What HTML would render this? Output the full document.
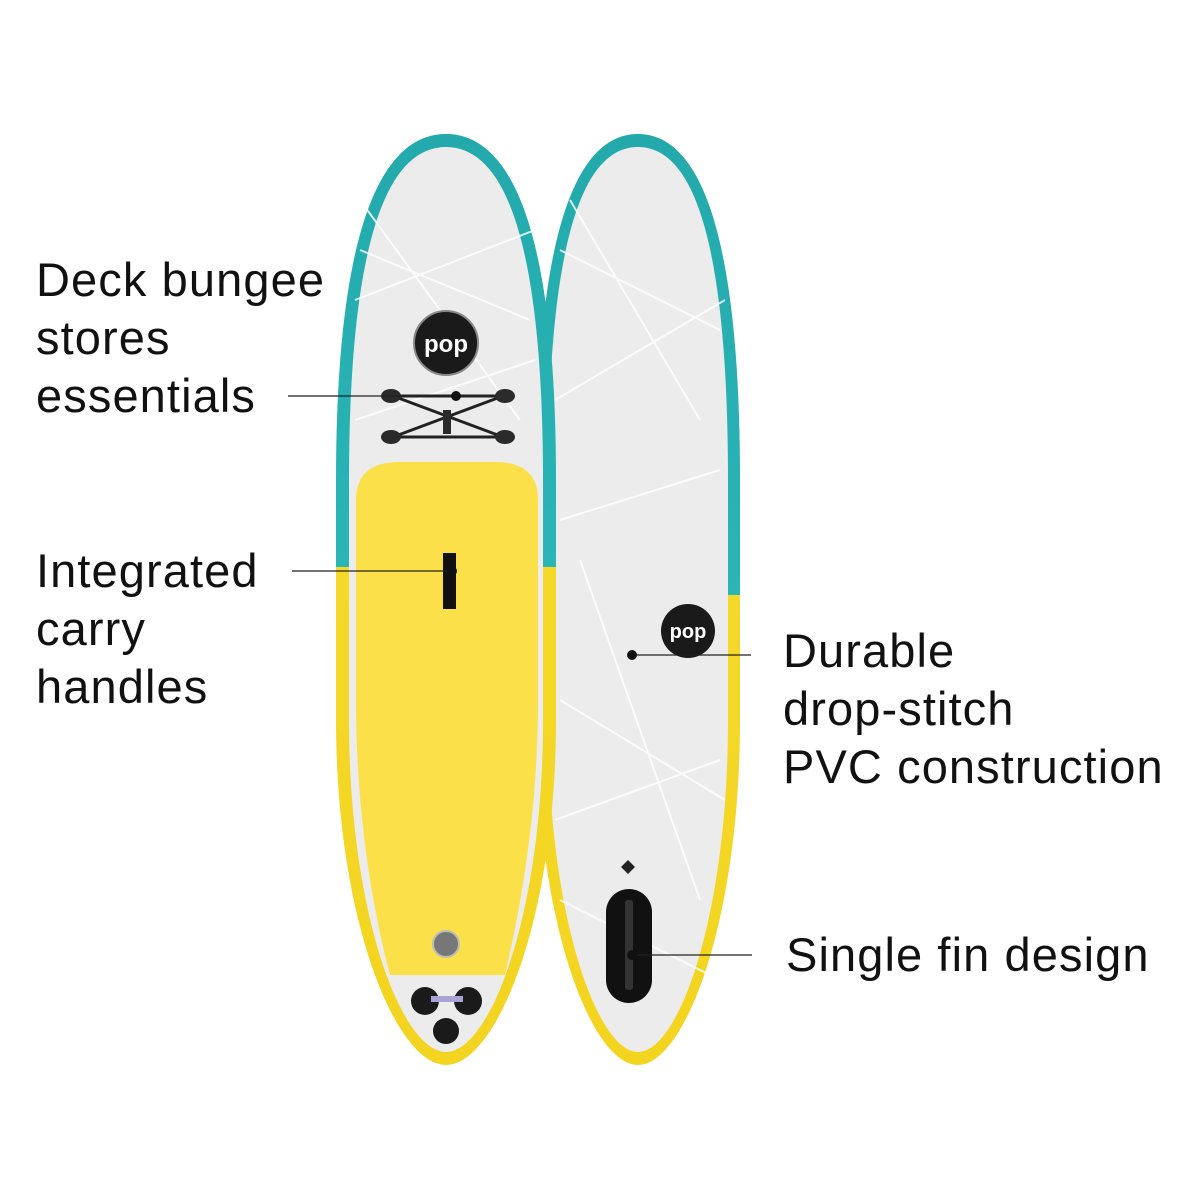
<!DOCTYPE html>
<html><head><meta charset="utf-8"><style>
html,body{margin:0;padding:0;background:#fff;}
.t{position:absolute;font-family:"Liberation Sans",sans-serif;font-size:47px;letter-spacing:1.1px;color:#111;line-height:58px;}
</style></head><body>
<div style="position:relative;width:1200px;height:1200px;overflow:hidden;">
<svg width="1200" height="1200" style="position:absolute;left:0;top:0">
<defs>
<linearGradient id="g1" gradientUnits="userSpaceOnUse" x1="0" y1="134" x2="0" y2="1065">
<stop offset="0" stop-color="#23a9ab"/><stop offset="0.465" stop-color="#2bb5b7"/><stop offset="0.465" stop-color="#f4d92a"/><stop offset="1" stop-color="#f3d41f"/></linearGradient>
<linearGradient id="g2" gradientUnits="userSpaceOnUse" x1="0" y1="134" x2="0" y2="1065">
<stop offset="0" stop-color="#23a9ab"/><stop offset="0.495" stop-color="#2bb5b7"/><stop offset="0.495" stop-color="#f4d92a"/><stop offset="1" stop-color="#f3d41f"/></linearGradient>
</defs>
<path d="M638,134 C708,134 740,260 740,480 L740,720 C740,920 685,1065 638,1065 C591,1065 536,920 536,720 L536,480 C536,260 568,134 638,134Z" fill="url(#g2)"/>
<path d="M638,147 C700,147 728,265 728,482 L728,720 C728,915 679,1052 638,1052 C597,1052 548,915 548,720 L548,482 C548,265 576,147 638,147Z" fill="#ececec"/>
<g stroke="#fff" stroke-width="2" opacity="0.8" fill="none">
<path d="M560,250 L720,330 M555,400 L725,300 M560,520 L720,470 M560,700 L725,800 M555,820 L720,760 M570,200 L700,420 M580,560 L700,900 M560,900 L720,980"/>
</g>
<circle cx="688" cy="631" r="27" fill="#1a1a1a"/>
<text x="688" y="638" font-family="Liberation Sans" font-weight="bold" font-size="20" fill="#fff" text-anchor="middle">pop</text>
<rect x="606" y="889" width="46" height="114" rx="23" fill="#111"/>
<rect x="625" y="900" width="8" height="90" rx="3" fill="#333"/>
<path d="M628,860 l7,7 -7,7 -7,-7z" fill="#222"/>
<path d="M446,134 C521,134 556,260 556,480 L556,720 C556,920 496,1065 446,1065 C396,1065 336,920 336,720 L336,480 C336,260 371,134 446,134Z" fill="url(#g1)"/>
<path d="M446,147 C512,147 543,265 543,482 L543,720 C543,915 490,1052 446,1052 C402,1052 349,915 349,720 L349,482 C349,265 380,147 446,147Z" fill="#ececec"/>
<g stroke="#fff" stroke-width="2" opacity="0.8" fill="none">
<path d="M360,250 L530,320 M355,300 L535,230 M360,200 L520,420 M355,420 L535,360"/>
</g>
<path d="M356,500 Q356,462 400,462 L495,462 Q538,462 538,500 L538,700 C538,830 515,930 505,975 L390,975 C378,930 356,830 356,700Z" fill="#fbe04a"/>
<circle cx="446" cy="343" r="32" fill="#1a1a1a" stroke="#888" stroke-width="2"/>
<text x="446" y="352" font-family="Liberation Sans" font-weight="bold" font-size="24" fill="#fff" text-anchor="middle">pop</text>
<g stroke="#222" stroke-width="3">
<line x1="393" y1="396" x2="503" y2="396"/><line x1="393" y1="437" x2="503" y2="437"/>
<line x1="393" y1="396" x2="503" y2="437"/><line x1="503" y1="396" x2="393" y2="437"/>
</g>
<g fill="#2a2a2a">
<ellipse cx="391" cy="396" rx="10" ry="7"/><ellipse cx="505" cy="396" rx="10" ry="7"/>
<ellipse cx="391" cy="437" rx="10" ry="7"/><ellipse cx="505" cy="437" rx="10" ry="7"/>
<rect x="443" y="410" width="8" height="24"/>
</g>
<rect x="443" y="553" width="13" height="56" fill="#111"/>
<circle cx="446" cy="944" r="13" fill="#777" stroke="#bbb" stroke-width="2"/>
<circle cx="425" cy="1001" r="14" fill="#1a1a1a"/><circle cx="468" cy="1001" r="14" fill="#1a1a1a"/>
<rect x="431" y="996" width="32" height="6" fill="#a9a3d6"/>
<circle cx="446" cy="1031" r="13" fill="#1a1a1a"/>
<g stroke="#222" stroke-width="1.3">
<line x1="288" y1="396" x2="456" y2="396"/>
<line x1="292" y1="571" x2="452" y2="571"/>
<line x1="632" y1="655" x2="751" y2="655"/>
<line x1="632" y1="955" x2="752" y2="955"/>
</g>
<circle cx="456" cy="396" r="5" fill="#111"/>
<circle cx="452" cy="571" r="5" fill="#111"/>
<circle cx="632" cy="655" r="5" fill="#111"/>
<circle cx="632" cy="955" r="5" fill="#111"/>
</svg>
<div class="t" style="left:36px;top:251px">Deck bungee<br>stores<br>essentials</div>
<div class="t" style="left:36px;top:542px">Integrated<br>carry<br>handles</div>
<div class="t" style="left:783px;top:622px">Durable<br>drop-stitch<br>PVC construction</div>
<div class="t" style="left:786px;top:926px">Single fin design</div>
</div>
</body></html>
